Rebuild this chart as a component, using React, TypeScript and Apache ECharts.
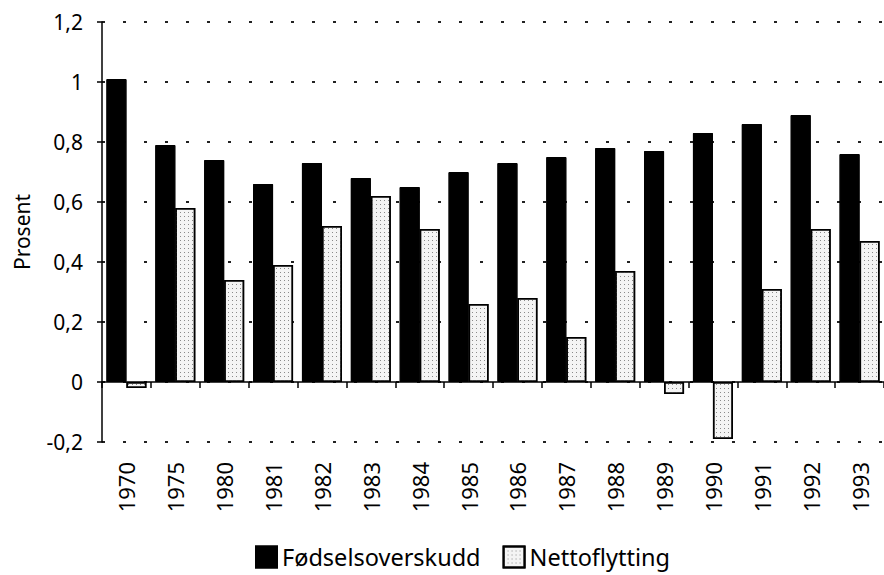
import React, { useEffect, useRef } from "react";
import * as echarts from "echarts";

const years = ["1970","1975","1980","1981","1982","1983","1984","1985","1986","1987","1988","1989","1990","1991","1992","1993"];
const fodselsoverskudd = [1.01,0.79,0.74,0.66,0.73,0.68,0.65,0.70,0.73,0.75,0.78,0.77,0.83,0.86,0.89,0.76];
const nettoflytting = [-0.02,0.58,0.34,0.39,0.52,0.62,0.51,0.26,0.28,0.15,0.37,-0.04,-0.19,0.31,0.51,0.47];
const seriesNames = ["Fødselsoverskudd", "Nettoflytting"];

const FONT = "Noto Sans";

export default function App() {
  const ref = useRef<HTMLDivElement>(null);
  useEffect(() => {
    if (!ref.current) return;
    const chart = echarts.init(ref.current, null, { renderer: "svg" });
    chart.setOption({
      animation: false,
      backgroundColor: "#ffffff",
      aria: { enabled: true, decal: { show: true } },
      textStyle: { fontFamily: FONT, color: "#000" },
      grid: { left: 102, top: 22, bottom: 133, right: -14, containLabel: false },
      legend: {
        left: 250,
        top: 540,
        itemWidth: 21,
        itemHeight: 21,
        itemGap: 22,
        icon: "rect",
        textStyle: { fontFamily: FONT, fontSize: 23.5, color: "#000" },
        data: seriesNames,
      },
      xAxis: {
        type: "category",
        data: years,
        axisLine: { onZero: true, lineStyle: { color: "#000", width: 1.5 } },
        axisTick: { show: true, length: 6, lineStyle: { color: "#000", width: 1.5 } },
        axisLabel: {
          rotate: 90,
          margin: 20,
          fontFamily: FONT,
          fontSize: 22,
          color: "#000",
        },
        splitLine: { show: false },
      },
      yAxis: {
        type: "value",
        min: -0.2,
        max: 1.2,
        interval: 0.2,
        name: "Prosent",
        nameLocation: "middle",
        nameRotate: 90,
        nameGap: 70,
        nameTextStyle: { fontFamily: FONT, fontSize: 21, color: "#000" },
        axisLine: { show: true, lineStyle: { color: "#000", width: 1.5 } },
        axisTick: { show: true, length: 5, lineStyle: { color: "#000", width: 1.5 } },
        axisLabel: {
          margin: 19,
          fontFamily: FONT,
          fontSize: 21,
          color: "#000",
          formatter: (v: number) => {
            const r = Math.round(v * 10) / 10;
            return String(r).replace(".", ",");
          },
        },
        splitLine: {
          show: true,
          lineStyle: { color: "#222", width: 2, type: [3, 18] },
        },
      },
      series: [
        {
          name: seriesNames[0],
          type: "bar",
          data: fodselsoverskudd,
          barWidth: 20,
          barGap: "0%",
          itemStyle: {
            color: "#000",
            borderColor: "#000",
            borderWidth: 1,
            decal: { symbol: "none" },
          },
        },
        {
          name: seriesNames[1],
          type: "bar",
          data: nettoflytting,
          barWidth: 20,
          barGap: "0%",
          itemStyle: {
            color: "#f4f4f4",
            borderColor: "#000",
            borderWidth: 1.5,
            decal: {
              symbol: "rect",
              symbolSize: 1,
              color: "#8a8a8a",
              dashArrayX: [1, 3],
              dashArrayY: [1, 3],
              rotation: 0,
            },
          },
        },
      ],
    });
    return () => chart.dispose();
  }, []);
  return (
    <div
      ref={ref}
      style={{ position: "fixed", left: 0, top: 0, width: 884, height: 575, background: "#fff" }}
    />
  );
}
